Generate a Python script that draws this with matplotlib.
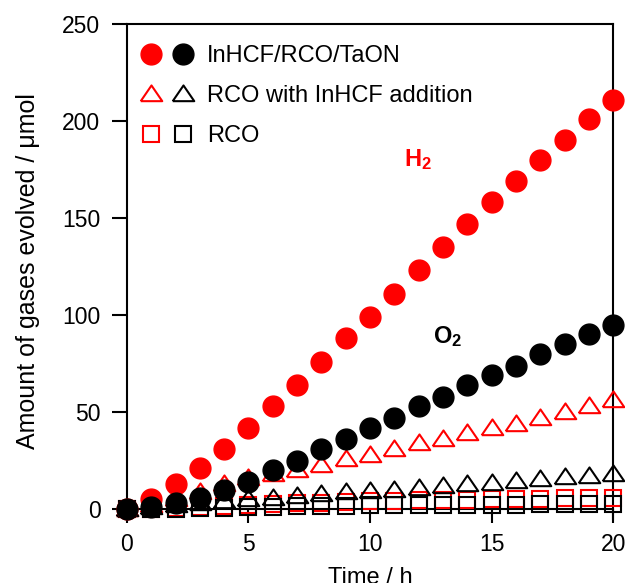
import numpy as np
import matplotlib.pyplot as plt
from matplotlib.legend_handler import HandlerTuple

plt.rcParams['font.family'] = ['Liberation Sans', 'DejaVu Sans']
plt.rcParams['mathtext.fontset'] = 'custom'
plt.rcParams['mathtext.rm'] = 'Liberation Sans'
plt.rcParams['mathtext.bf'] = 'Liberation Sans:bold'

time_h = list(range(21))
h2_full = [0, 5, 13, 21, 31, 42, 53, 64, 76, 88, 99, 111, 123, 135, 147, 158, 169, 180, 190, 201, 211]
o2_full = [0, 1, 3, 6, 10, 14, 20, 25, 31, 36, 42, 47, 53, 58, 64, 69, 74, 80, 85, 90, 95]
h2_add = [0, 2, 5, 9, 13, 16, 18, 20, 23, 26, 28, 31, 34, 36, 39, 42, 44, 47, 50, 53, 56]
o2_add = [0, 1, 2, 3, 4, 5, 6, 7, 8, 9, 9.5, 10, 11, 12, 13, 13.5, 14.5, 15.5, 16.5, 17, 18]
h2_rco = [0, 0, 0.5, 1, 1.5, 2, 2.5, 3, 3.3, 3.6, 4, 4.2, 4.5, 4.7, 4.9, 5, 5.2, 5.4, 5.6, 5.8, 6]
o2_rco = [0, 0, 0.3, 0.5, 0.7, 1, 1.2, 1.4, 1.6, 1.8, 2, 2, 2.1, 2.2, 2.3, 2.3, 2.4, 2.5, 2.6, 2.7, 2.8]

# triangle a bit wider than tall
tri = [(-1, -0.62), (1, -0.62), (0, 0.84), (-1, -0.62)]

fig = plt.figure(figsize=(6.25, 5.83), dpi=100)
ax = fig.add_axes([0.203, 0.110, 0.778, 0.849])

sq_r, = ax.plot(time_h, h2_rco, 's', mfc='none', mec='red', ms=11.5, mew=1.5, clip_on=False, zorder=3)
sq_k, = ax.plot(time_h, o2_rco, 's', mfc='none', mec='black', ms=11.5, mew=1.5, clip_on=False, zorder=3)
tr_r, = ax.plot(time_h, h2_add, marker=tri, ls='none', mfc='none', mec='red', ms=15.5, mew=1.5, clip_on=False, zorder=4)
tr_k, = ax.plot(time_h, o2_add, marker=tri, ls='none', mfc='none', mec='black', ms=15.5, mew=1.5, clip_on=False, zorder=4)
c_r, = ax.plot(time_h, h2_full, 'o', color='red', ms=15, clip_on=False, zorder=5)
c_k, = ax.plot(time_h, o2_full, 'o', color='black', ms=15, clip_on=False, zorder=5)

ax.set_xlim(0, 20)
ax.set_ylim(-5, 250)
ax.spines['bottom'].set_position(('data', 0))
for s in ax.spines.values():
    s.set_linewidth(1.5)
ax.set_xticks([0, 5, 10, 15, 20])
ax.set_yticks([0, 50, 100, 150, 200, 250])
ax.tick_params(direction='out', width=1.5, labelsize=16.5)
ax.tick_params(axis='y', length=11, pad=8)
ax.tick_params(axis='x', length=10, pad=7)

ax.set_xlabel('Time / h', fontsize=17)
ax.set_ylabel('Amount of gases evolved / μmol', fontsize=18)
ax.xaxis.set_label_coords(0.5, -0.098)
ax.yaxis.set_label_coords(-0.178, 0.5)

ax.text(11.4, 180, r'$\mathbf{H_2}$', color='red', fontsize=17, va='center')
ax.text(12.6, 89, r'$\mathbf{O_2}$', color='black', fontsize=17, va='center')

ax.legend([(c_r, c_k), (tr_r, tr_k), (sq_r, sq_k)],
          ['InHCF/RCO/TaON', 'RCO with InHCF addition', 'RCO'],
          handler_map={tuple: HandlerTuple(ndivide=None, pad=0.5)},
          loc='upper left', bbox_to_anchor=(-0.005, 0.99), frameon=False,
          fontsize=17, handlelength=2.2, handletextpad=0.6, labelspacing=0.75,
          borderaxespad=0.3)

fig.savefig('out.png', dpi=100)
